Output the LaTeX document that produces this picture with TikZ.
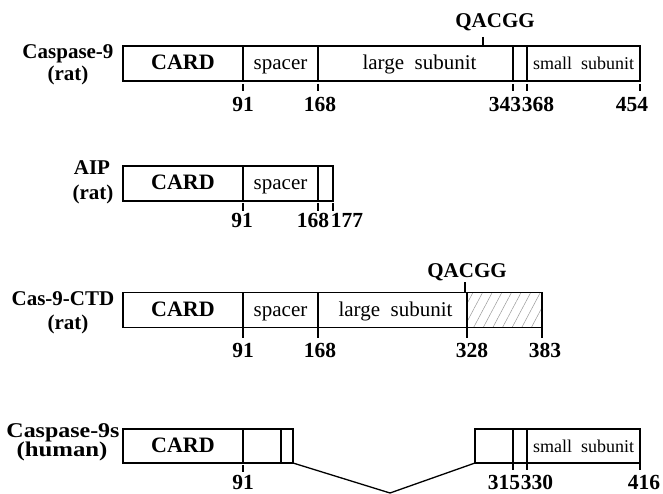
\documentclass[tikz,border=0pt]{standalone}
\usepackage{fontspec}
\setmainfont{Liberation Serif}
\usetikzlibrary{patterns.meta}
\begin{document}
\begin{tikzpicture}[x=1pt,y=-1pt,
  seg/.style={draw, line width=1.8pt, rectangle, inner sep=0pt, outer sep=0pt,
    minimum height=35pt, text height=14pt, text depth=2pt,
    font=\fontsize{21}{21}\selectfont},
  cardtxt/.style={font=\bfseries\fontsize{22}{22}\selectfont},
  smalltxt/.style={font=\fontsize{18}{18}\selectfont},
  tickline/.style={line width=1.6pt},
  num/.style={anchor=base, inner sep=0pt, font=\bfseries\fontsize{21.5}{21.5}\selectfont},
  lab/.style={anchor=base, inner sep=0pt, font=\bfseries\fontsize{21}{21}\selectfont},
  hatch/.style={pattern={Lines[angle=62,distance=8.5pt,line width=0.5pt]}, pattern color=gray!80},
  vline/.style={line width=1.3pt}
]
\useasboundingbox (0,0) rectangle (663,494);

% ---------- Row 1: Caspase-9 (rat) ----------
\node[lab] (l1a) at (68,59) {Caspase-9};
\node[lab] (l1b) at (68,81) {(rat)};
\node[seg, cardtxt, minimum width=120pt] (c9card) at (183,63.5) {CARD};
\node[seg, minimum width=75pt] (c9spacer) at (280.5,63.5) {spacer};
\node[seg, minimum width=195pt] (c9large) at (415.5,63.5) {\hspace{8pt}large\ \ subunit};
\node[seg, minimum width=14pt] (c9gap) at (520,63.5) {};
\node[seg, smalltxt, minimum width=113pt] (c9small) at (583.5,63.5) {small\ \ subunit};
\foreach \n in {c9card, c9spacer, c9large, c9gap, c9small}
  \draw[tickline] (\n.south east) ++(0,3) -- ++(0,7);
\coordinate (q1) at (483,37);
\draw[tickline] (q1) -- (q1 |- c9large.north);
\node[lab] (q1t) at (495,28) {QACGG};
\node[num] (n1a) at (243,112) {91};
\node[num] (n1b) at (320,112) {168};
\node[num] (n1c) at (505,112) {343};
\node[num] (n1d) at (538,112) {368};
\node[num] (n1e) at (632,112) {454};

% ---------- Row 2: AIP (rat) ----------
\node[lab] (l2a) at (92,175) {AIP};
\node[lab] (l2b) at (93,200) {(rat)};
\node[seg, cardtxt, minimum width=120pt] (aipcard) at (183,183.5) {CARD};
\node[seg, minimum width=75pt] (aipspacer) at (280.5,183.5) {spacer};
\node[seg, minimum width=15pt] (aipend) at (325.5,183.5) {};
\foreach \n in {aipcard, aipspacer, aipend}
  \draw[tickline] (\n.south east) ++(0,2) -- ++(0,8);
\node[num] (n2a) at (242,228) {91};
\node[num] (n2b) at (313,228) {168};
\node[num] (n2c) at (347,228) {177};

% ---------- Row 3: Cas-9-CTD (rat) ----------
\node[lab] (l3a) at (63,305) {Cas-9-CTD};
\node[lab] (l3b) at (68,329) {(rat)};
\node[seg, cardtxt, minimum width=120pt] (ctdcard) at (183,310) {CARD};
\node[seg, minimum width=75pt] (ctdspacer) at (280.5,310) {spacer};
\node[seg, minimum width=149pt] (ctdlarge) at (392.5,310) {\hspace{6pt}large\ \ subunit};
\node[seg, hatch, minimum width=75pt] (ctdhatch) at (504.5,310) {};
\foreach \n in {ctdcard, ctdspacer, ctdlarge, ctdhatch}
  \draw[tickline] (\n.south east) -- ++(0,10);
\coordinate (q3) at (465,282);
\draw[tickline] (q3) -- (q3 |- ctdlarge.north);
\node[lab] (q3t) at (467,277) {QACGG};
\node[num] (n3a) at (243,357) {91};
\node[num] (n3b) at (320,357) {168};
\node[num] (n3c) at (472,357) {328};
\node[num] (n3d) at (545,357) {383};

% ---------- Row 4: Caspase-9s (human) ----------
\node[lab] (l4a) at (63,437) {\scalebox{1.14}[1]{Caspase-9s}};
\node[lab] (l4b) at (62,456) {\scalebox{1.18}[1]{(human)}};
\node[seg, cardtxt, minimum width=120pt, minimum height=34pt] (hcard) at (183,446) {CARD};
\node[seg, minimum width=38pt, minimum height=34pt] (hseg2) at (262,446) {};
\node[seg, minimum width=12pt, minimum height=34pt] (hseg3) at (287,446) {};
\node[seg, minimum width=38pt, minimum height=34pt] (hseg4) at (494,446) {};
\node[seg, minimum width=14pt, minimum height=34pt] (hseg5) at (520,446) {};
\node[seg, smalltxt, minimum width=113pt, minimum height=34pt] (hsmall) at (583.5,446) {small\ \ subunit};
\coordinate (vb) at (390,493);
\draw[vline] (hseg3.south east) -- (vb) -- (hseg4.south west);
\draw[tickline] (hcard.south east) ++(0,2) -- ++(0,7);
\foreach \n in {hseg4, hseg5, hsmall}
  \draw[tickline] (\n.south east) -- ++(0,7);
\node[num] (n4a) at (243,489) {91};
\node[num] (n4b) at (504,489) {315};
\node[num] (n4c) at (537,489) {330};
\node[num] (n4d) at (644,489) {416};
\end{tikzpicture}
\end{document}
